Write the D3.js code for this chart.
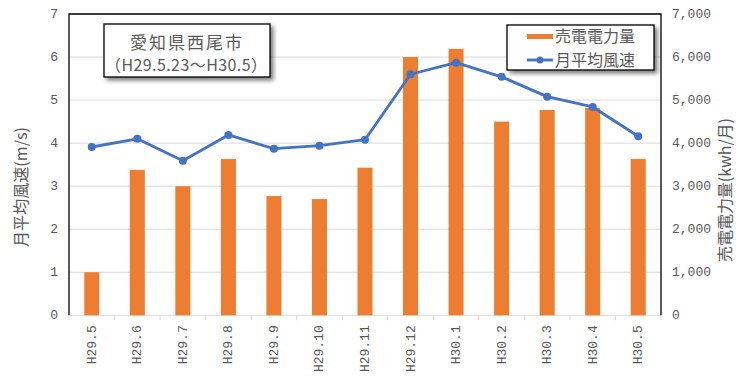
<!DOCTYPE html>
<html><head><meta charset="utf-8">
<script src="https://cdn.jsdelivr.net/npm/d3@7"></script>
<style>
body{margin:0;background:#fff;}
svg{display:block;}
.mono{font-family:"Liberation Mono","DejaVu Sans Mono",monospace;}
.jp{font-family:"Noto Sans CJK JP","Noto Sans",sans-serif;}
</style></head>
<body><svg id="c" width="750" height="378"></svg>
<script>
const categories = ["H29.5","H29.6","H29.7","H29.8","H29.9","H29.10","H29.11","H29.12","H30.1","H30.2","H30.3","H30.4","H30.5"];
const power = [1000,3380,3000,3630,2770,2700,3430,6000,6190,4500,4770,4820,3630];
const wind = [3.91,4.10,3.59,4.19,3.87,3.94,4.08,5.60,5.87,5.54,5.08,4.84,4.16];
const leftTicks = [0,1,2,3,4,5,6,7];
const rightTicks = [0,1000,2000,3000,4000,5000,6000,7000];

const svg = d3.select("#c");
const L=69, R=661, T=14, B=315.3;
const x = d3.scaleBand().domain(categories).range([L,R]).paddingInner(0.67).paddingOuter(0.335);
const xb = d3.scaleBand().domain(categories).range([L,R]);
const yL = d3.scaleLinear().domain([0,7]).range([B,T]);
const yR = d3.scaleLinear().domain([0,7000]).range([B,T]);
const txt = "#595959";

// gridlines
svg.append("g").selectAll("line").data(leftTicks.slice(1)).join("line")
  .attr("x1",L).attr("x2",R).attr("y1",d=>yL(d)).attr("y2",d=>yL(d))
  .attr("stroke","#d9d9d9").attr("stroke-width",1);

// bottom axis
const xa = svg.append("g").attr("transform",`translate(0,${B})`);
xa.append("line").attr("x1",L).attr("x2",R).attr("stroke","#d9d9d9");
xa.selectAll("line.t").data(d3.range(categories.length+1)).join("line").attr("class","t")
  .attr("x1",i=>L+i*xb.step()).attr("x2",i=>L+i*xb.step()).attr("y1",0).attr("y2",5)
  .attr("stroke","#d9d9d9");
xa.selectAll("text").data(categories).join("text").attr("class","mono")
  .attr("transform",d=>`translate(${xb(d)+xb.bandwidth()/2+4},10) rotate(-90)`)
  .attr("text-anchor","end").attr("font-size",13).attr("fill",txt).text(d=>d);

// bars
svg.append("g").selectAll("rect").data(categories).join("rect")
  .attr("x",d=>x(d)).attr("width",x.bandwidth())
  .attr("y",(d,i)=>yR(power[i])).attr("height",(d,i)=>B-yR(power[i]))
  .attr("fill","#ed7d31");

// line
const line = d3.line().x((d,i)=>xb(categories[i])+xb.bandwidth()/2).y(d=>yL(d));
svg.append("path").datum(wind).attr("d",line).attr("fill","none")
  .attr("stroke","#4472c4").attr("stroke-width",2.8).attr("stroke-linejoin","round");
svg.append("g").selectAll("circle").data(wind).join("circle")
  .attr("cx",(d,i)=>xb(categories[i])+xb.bandwidth()/2).attr("cy",d=>yL(d)).attr("r",4)
  .attr("fill","#4472c4");

// plot border (left, top, right)
svg.append("path").attr("d",`M${L},${B}V${T}H${R}V${B}`).attr("fill","none").attr("stroke","#000").attr("stroke-width",1.3);

// left ticks
svg.append("g").selectAll("text").data(leftTicks).join("text").attr("class","mono")
  .attr("x",58).attr("y",d=>yL(d)+4).attr("text-anchor","end").attr("font-size",13).attr("fill",txt).text(d=>d);
// right ticks
svg.append("g").selectAll("text").data(rightTicks).join("text").attr("class","mono")
  .attr("x",672).attr("y",d=>yR(d)+4).attr("text-anchor","start").attr("font-size",13).attr("fill",txt).text(d=>d3.format(",")(d));

// axis titles
svg.append("text").attr("class","jp").attr("transform","translate(27,187) rotate(-90)")
  .attr("text-anchor","middle").attr("font-size",16).attr("fill",txt)
  .attr("textLength",120).attr("lengthAdjust","spacing").text("月平均風速(m/s)");
svg.append("text").attr("class","jp").attr("transform","translate(731,190) rotate(-90)")
  .attr("text-anchor","middle").attr("font-size",16).attr("fill",txt)
  .attr("textLength",144).attr("lengthAdjust","spacing").text("売電電力量(kwh/月)");

// shadow filter
const defs = svg.append("defs");
const f = defs.append("filter").attr("id","sh").attr("x","-10%").attr("y","-10%").attr("width","130%").attr("height","140%");
f.append("feGaussianBlur").attr("in","SourceAlpha").attr("stdDeviation",2);
f.append("feOffset").attr("dx",3).attr("dy",3).attr("result","o");
f.append("feComponentTransfer").append("feFuncA").attr("type","linear").attr("slope",0.5);
const fm = f.append("feMerge"); fm.append("feMergeNode"); fm.append("feMergeNode").attr("in","SourceGraphic");

// title box
svg.append("rect").attr("x",104).attr("y",24).attr("width",166).attr("height",53)
  .attr("fill","#fff").attr("stroke","#000").attr("stroke-width",1.3).attr("filter","url(#sh)");
svg.append("text").attr("class","jp").attr("x",186).attr("y",49).attr("text-anchor","middle")
  .attr("font-size",17).attr("fill",txt).attr("textLength",112).attr("lengthAdjust","spacing").text("愛知県西尾市");
svg.append("text").attr("class","jp").attr("x",186).attr("y",71).attr("text-anchor","middle")
  .attr("font-size",16).attr("fill",txt).attr("textLength",162).attr("lengthAdjust","spacing").text("（H29.5.23～H30.5）");

// legend
svg.append("rect").attr("x",507).attr("y",25).attr("width",147).attr("height",45)
  .attr("fill","#fff").attr("stroke","#000").attr("stroke-width",1.3).attr("filter","url(#sh)");
svg.append("rect").attr("x",527).attr("y",34).attr("width",26).attr("height",5).attr("fill","#ed7d31");
svg.append("line").attr("x1",527).attr("x2",553).attr("y1",60).attr("y2",60).attr("stroke","#4472c4").attr("stroke-width",2.8);
svg.append("circle").attr("cx",540).attr("cy",60).attr("r",3.5).attr("fill","#4472c4");
svg.append("text").attr("class","jp").attr("x",555).attr("y",42).attr("font-size",16).attr("fill",txt).text("売電電力量");
svg.append("text").attr("class","jp").attr("x",555).attr("y",66).attr("font-size",16).attr("fill",txt).text("月平均風速");
</script></body></html>
